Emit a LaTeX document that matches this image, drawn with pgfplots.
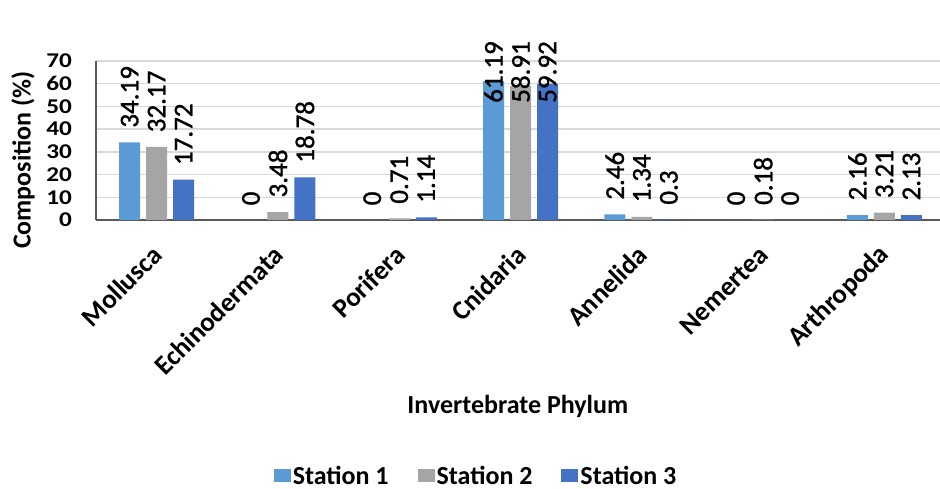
\documentclass[border=0pt]{standalone}
\usepackage{pgfplots}
\pgfplotsset{compat=1.18}
\usepackage{pgfplotstable}
\usepackage{fontspec}
\setmainfont{Carlito}
\newfontfamily\tickfont{Carlito}[FakeStretch=1.2]
\newfontfamily\lblfont{Carlito}[FakeBold=1.2]
\definecolor{sOne}{HTML}{5B9BD5}
\definecolor{sTwo}{HTML}{A5A5A5}
\definecolor{sThree}{HTML}{4472C4}
\definecolor{gridc}{HTML}{D9D9D9}
\definecolor{axc}{HTML}{595959}

\pgfplotstableread{
x s1 s2 s3
0 34.19 32.17 17.72
1 0 3.48 18.78
2 0 0.71 1.14
3 61.19 58.91 59.92
4 2.46 1.34 0.3
5 0 0.18 0
6 2.16 3.21 2.13
}\datatable

\pgfplotsset{
  lbl/.style={every node near coord/.append style={rotate=90, anchor=west, inner sep=0pt, xshift=\off pt, font=\lblfont\fontsize{27}{30}\selectfont, text=black}},
}

\begin{document}
\begin{tikzpicture}
\path[use as bounding box] (-96pt,-269pt) rectangle (844pt,220pt);
\begin{axis}[
  at={(0pt,0pt)}, anchor=south west,
  x=121.3pt, y=2.2714pt,
  xmin=-0.5, xmax=6.455, ymin=0, ymax=70,
  ybar, bar width=21pt,
  axis x line*=bottom, axis y line*=left,
  axis line style={axc, line width=1.5pt, -},
  ytick={0,10,...,70},
  xtick={0,...,6},
  xticklabels={Mollusca,Echinodermata,Porifera,Cnidaria,Annelida,Nemertea,Arthropoda},
  major tick length=0pt,
  ymajorgrids, grid style={gridc, line width=1.5pt},
  /pgf/number format/assume math mode=true,
  yticklabel style={font=\tickfont\bfseries\fontsize{21}{26}\selectfont, anchor=east, inner sep=0pt, xshift=-24pt},
  xticklabel style={font=\bfseries\fontsize{27}{30}\selectfont, yshift=-31pt, rotate=45, anchor=east, inner sep=0pt, xshift=1pt},
  xlabel={Invertebrate Phylum},
  every axis x label/.style={at={(axis description cs:0.5,-1.214)}, anchor=base, font=\bfseries\fontsize{26}{30}\selectfont},
  ylabel={Composition (\%)},
  every axis y label/.style={at={(axis description cs:-0.0864,0.377)}, rotate=90, anchor=center, font=\bfseries\fontsize{26}{30}\selectfont},
  nodes near coords={\pgfmathprintnumber[assume math mode=true]{\pgfplotspointmeta}},
  legend style={at={(axis description cs:0.4505,-1.61)}, anchor=center, draw=none, legend columns=3,
    font=\bfseries\fontsize{26}{30}\selectfont, nodes={inner xsep=2pt},
    /tikz/every even column/.append style={column sep=27pt}},
  legend image code/.code={\fill[#1] (0pt,-6pt) rectangle (17pt,7pt);},
]
\addplot[fill=sOne, draw=none, bar shift=-27pt,
  visualization depends on={min(14.5,117-2.2714*\thisrow{s1}) \as \off}, lbl]
  table[x=x,y=s1]{\datatable};
\addplot[fill=sTwo, draw=none, bar shift=0pt,
  visualization depends on={min(14.5,117-2.2714*\thisrow{s2}) \as \off}, lbl]
  table[x=x,y=s2]{\datatable};
\addplot[fill=sThree, draw=none, bar shift=27pt,
  visualization depends on={min(14.5,117-2.2714*\thisrow{s3}) \as \off}, lbl]
  table[x=x,y=s3]{\datatable};
\legend{Station 1, Station 2, Station 3}
\end{axis}
\end{tikzpicture}
\end{document}
